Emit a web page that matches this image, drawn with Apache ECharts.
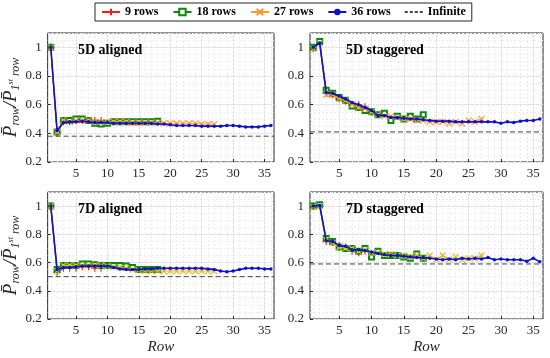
<!DOCTYPE html>
<html><head><meta charset="utf-8">
<script src="https://cdn.jsdelivr.net/npm/echarts@6/dist/echarts.min.js"></script>
<style>html,body{margin:0;padding:0;background:#fff}#c{width:550px;height:358px}</style>
</head><body><div id="c"></div>
<script>
// ---------- data ----------
const panelTitles = ['5D aligned', '5D staggered', '7D aligned', '7D staggered'];
const seriesNames = ['9 rows', '18 rows', '27 rows', '36 rows', 'Infinite'];
const xTickLabels = [5, 10, 15, 20, 25, 30, 35];
const yTickLabels = [0.2, 0.4, 0.6, 0.8, 1];
const infinite = [0.38, 0.41, 0.50, 0.59];

const r9_5a  = [1.0, 0.40, 0.48, 0.48, 0.49, 0.49, 0.49, 0.49, 0.49];
const r18_5a = [1.0, 0.41, 0.49, 0.49, 0.50, 0.50, 0.49, 0.47, 0.465, 0.47, 0.48, 0.48, 0.48, 0.48, 0.48, 0.48, 0.48, 0.485];
const r27_5a = [1.0, 0.41, 0.49, 0.48, 0.49, 0.49, 0.49, 0.48, 0.48, 0.48, 0.48, 0.48, 0.48, 0.475, 0.475, 0.475, 0.475, 0.475, 0.47, 0.47, 0.47, 0.47, 0.47, 0.47, 0.465, 0.465, 0.465];
const r36_5a = [1.0, 0.42, 0.475, 0.48, 0.48, 0.485, 0.48, 0.475, 0.475, 0.475, 0.47, 0.47, 0.47, 0.47, 0.47, 0.47, 0.47, 0.465, 0.465, 0.46, 0.455, 0.455, 0.455, 0.455, 0.45, 0.45, 0.45, 0.45, 0.455, 0.455, 0.45, 0.445, 0.445, 0.445, 0.45, 0.455];

const r9_5s  = [0.99, 1.03, 0.68, 0.67, 0.64, 0.625, 0.60, 0.60, 0.585];
const r18_5s = [1.0, 1.04, 0.70, 0.68, 0.65, 0.63, 0.59, 0.58, 0.56, 0.55, 0.53, 0.54, 0.49, 0.52, 0.50, 0.52, 0.50, 0.53];
const r27_5s = [0.99, 1.03, 0.67, 0.67, 0.64, 0.63, 0.60, 0.58, 0.57, 0.55, 0.53, 0.52, 0.52, 0.51, 0.50, 0.50, 0.49, 0.49, 0.48, 0.48, 0.48, 0.47, 0.48, 0.47, 0.49, 0.48, 0.50];
const r36_5s = [1.0, 1.03, 0.685, 0.68, 0.66, 0.64, 0.615, 0.60, 0.58, 0.56, 0.525, 0.525, 0.51, 0.51, 0.505, 0.50, 0.50, 0.495, 0.49, 0.485, 0.485, 0.485, 0.48, 0.48, 0.48, 0.48, 0.48, 0.48, 0.48, 0.47, 0.48, 0.475, 0.485, 0.49, 0.49, 0.50];

const r9_7a  = [1.0, 0.53, 0.56, 0.56, 0.56, 0.57, 0.57, 0.56, 0.56];
const r18_7a = [1.0, 0.55, 0.58, 0.58, 0.58, 0.59, 0.59, 0.585, 0.58, 0.58, 0.58, 0.58, 0.575, 0.565, 0.55, 0.55, 0.55, 0.55];
const r27_7a = [1.0, 0.54, 0.58, 0.58, 0.58, 0.58, 0.58, 0.58, 0.58, 0.575, 0.57, 0.565, 0.56, 0.55, 0.545, 0.54, 0.54, 0.54, 0.54, 0.54, 0.54, 0.54, 0.54, 0.54, 0.54, 0.54, 0.54];
const r36_7a = [1.0, 0.55, 0.565, 0.565, 0.57, 0.575, 0.575, 0.575, 0.575, 0.575, 0.565, 0.555, 0.55, 0.55, 0.55, 0.555, 0.555, 0.56, 0.56, 0.56, 0.56, 0.56, 0.56, 0.56, 0.56, 0.555, 0.55, 0.54, 0.535, 0.54, 0.55, 0.56, 0.56, 0.56, 0.555, 0.555];

const r9_7s  = [1.0, 1.0, 0.75, 0.74, 0.72, 0.71, 0.68, 0.67, 0.68];
const r18_7s = [1.0, 1.01, 0.77, 0.75, 0.71, 0.70, 0.70, 0.68, 0.70, 0.64, 0.68, 0.65, 0.65, 0.65, 0.64, 0.63, 0.66, 0.63];
const r27_7s = [0.995, 1.0, 0.76, 0.74, 0.71, 0.70, 0.70, 0.68, 0.69, 0.67, 0.67, 0.66, 0.66, 0.65, 0.65, 0.64, 0.65, 0.63, 0.65, 0.62, 0.65, 0.62, 0.64, 0.62, 0.63, 0.63, 0.65];
const r36_7s = [1.0, 1.005, 0.755, 0.75, 0.72, 0.715, 0.69, 0.69, 0.685, 0.675, 0.665, 0.655, 0.65, 0.65, 0.645, 0.64, 0.635, 0.635, 0.63, 0.625, 0.62, 0.625, 0.62, 0.63, 0.625, 0.63, 0.625, 0.635, 0.62, 0.625, 0.62, 0.62, 0.62, 0.61, 0.63, 0.605];

const panelData = [
  [r9_5a, r18_5a, r27_5a, r36_5a],
  [r9_5s, r18_5s, r27_5s, r36_5s],
  [r9_7a, r18_7a, r27_7a, r36_7a],
  [r9_7s, r18_7s, r27_7s, r36_7s]
];

// ---------- styling ----------
const SERIF = 'Liberation Serif';
const AX = '#262626';
const grids = [
  {left: 42, top: 33, width: 232, height: 129},
  {left: 310, top: 33, width: 233, height: 129},
  {left: 42, top: 192, width: 232, height: 127},
  {left: 310, top: 192, width: 233, height: 127}
];
const X_MIN = 0.5, X_MAX = 36.5, Y_MIN = 0.2, Y_MAX = 1.1;
const minorX = []; for (let v = 1; v <= 36; v++) minorX.push(v);
const minorY = []; for (let k = 0; k <= 18; k++) minorY.push(+(0.2 + k * 0.05).toFixed(2));

const colorsTop = ['#ff1a1a', '#0a8a0a', '#ff9933', '#1010c8'];
const colorsBot = ['#ff1a1a', '#0a8a0a', '#e0b828', '#1010c8'];
const symbols = [
  'path://M5,0 L5,10 M0,5 L10,5',
  'emptyRect',
  'path://M0,0 L10,10 M0,10 L10,0',
  'circle'
];
const symSizes = [7, 5, 6, 3.5];

const xAxes = [], yAxes = [], series = [], titles = [];
grids.forEach((g, i) => {
  const bottomRow = i >= 2, leftCol = i % 2 === 0;
  xAxes.push({
    gridIndex: i, type: 'value', min: X_MIN, max: X_MAX,
    name: bottomRow ? 'Row' : '', nameLocation: 'middle', nameGap: 21,
    nameTextStyle: {fontFamily: SERIF, fontStyle: 'italic', fontSize: 15, color: AX},
    axisLine: {show: false},
    axisTick: {show: true, inside: true, length: 3, lineStyle: {color: AX}, customValues: xTickLabels},
    axisLabel: {customValues: xTickLabels, fontFamily: SERIF, fontSize: 13, color: AX, margin: 5},
    splitLine: {show: true, lineStyle: {color: '#dedede', width: 1}}
  });
  yAxes.push({
    gridIndex: i, type: 'value', min: Y_MIN, max: Y_MAX,
    name: leftCol ? '{p|P\u0304}{s|row}{p|/P\u0304}{s|1}{u|st}{s| row}' : '',
    nameLocation: 'middle', nameGap: 25, nameRotate: 90,
    nameTextStyle: {
      color: AX,
      rich: {
        p: {fontFamily: SERIF, fontStyle: 'italic', fontSize: 19, lineHeight: 22, verticalAlign: 'middle', color: AX},
        s: {fontFamily: SERIF, fontStyle: 'italic', fontSize: 12, lineHeight: 22, verticalAlign: 'bottom', color: AX},
        u: {fontFamily: SERIF, fontStyle: 'italic', fontSize: 8, lineHeight: 22, verticalAlign: 'middle', color: AX}
      }
    },
    axisLine: {show: false},
    axisTick: {show: true, inside: true, length: 3, lineStyle: {color: AX}, customValues: yTickLabels},
    axisLabel: {customValues: yTickLabels, fontFamily: SERIF, fontSize: 13, color: AX, margin: 6},
    splitLine: {show: true, lineStyle: {color: '#dedede', width: 1}}
  });
  titles.push({
    text: panelTitles[i], left: g.left + 31, top: g.top + 5,
    textStyle: {fontFamily: SERIF, fontWeight: 'bold', fontSize: 14, color: '#000'}
  });
});
// minor grid axes
grids.forEach((g, i) => {
  xAxes.push({
    gridIndex: i, type: 'value', min: X_MIN, max: X_MAX,
    axisLine: {show: false}, axisLabel: {show: false},
    axisTick: {show: false, customValues: minorX},
    splitLine: {show: true, lineStyle: {color: '#ececec', width: 1, type: [2, 2]}}
  });
  yAxes.push({
    gridIndex: i, type: 'value', min: Y_MIN, max: Y_MAX,
    axisLine: {show: false}, axisLabel: {show: false},
    axisTick: {show: false, customValues: minorY},
    splitLine: {show: true, lineStyle: {color: '#ececec', width: 1, type: [2, 2]}}
  });
});

panelData.forEach((sets, i) => {
  const cols = i >= 2 ? colorsBot : colorsTop;
  sets.forEach((vals, k) => {
    series.push({
      name: seriesNames[k], type: 'line', xAxisIndex: i, yAxisIndex: i,
      data: vals.map((v, j) => [j + 1, v]),
      symbol: symbols[k], symbolSize: symSizes[k], showSymbol: true,
      lineStyle: {color: cols[k], width: k === 3 ? 1.6 : 1.1},
      itemStyle: {color: cols[k], borderColor: cols[k], borderWidth: k === 3 ? 0 : 1.1},
      z: 3 + k, animation: false
    });
  });
  series.push({
    name: 'Infinite', type: 'line', xAxisIndex: i, yAxisIndex: i,
    data: [[X_MIN, infinite[i]], [X_MAX, infinite[i]]],
    symbol: 'none', lineStyle: {color: '#444', width: 1, type: [5, 3]},
    itemStyle: {color: '#444'}, z: 2, animation: false
  });
});

const chart = echarts.init(document.getElementById('c'), null, {renderer: 'canvas'});
chart.setOption({
  backgroundColor: '#fff',
  animation: false,
  title: titles,
  legend: {
    data: seriesNames.map(n => n === 'Infinite' ? {name: n, icon: 'path://M0,4 H3 V6 H0 Z M5,4 H8 V6 H5 Z M10,4 H13 V6 H10 Z M15,4 H18 V6 H15 Z'} : {name: n}),
    left: 95, top: 3, orient: 'horizontal',
    backgroundColor: '#fff', borderColor: '#262626', borderWidth: 1, borderRadius: 0,
    padding: [3, 6], itemGap: 14, itemWidth: 18, itemHeight: 8,
    textStyle: {fontFamily: SERIF, fontWeight: 'bold', fontSize: 12, color: '#000'}
  },
  grid: grids.map(g => Object.assign({show: true, borderColor: AX, borderWidth: 1, backgroundColor: 'transparent'}, g)),
  xAxis: xAxes,
  yAxis: yAxes,
  series: series
});
</script></body></html>
